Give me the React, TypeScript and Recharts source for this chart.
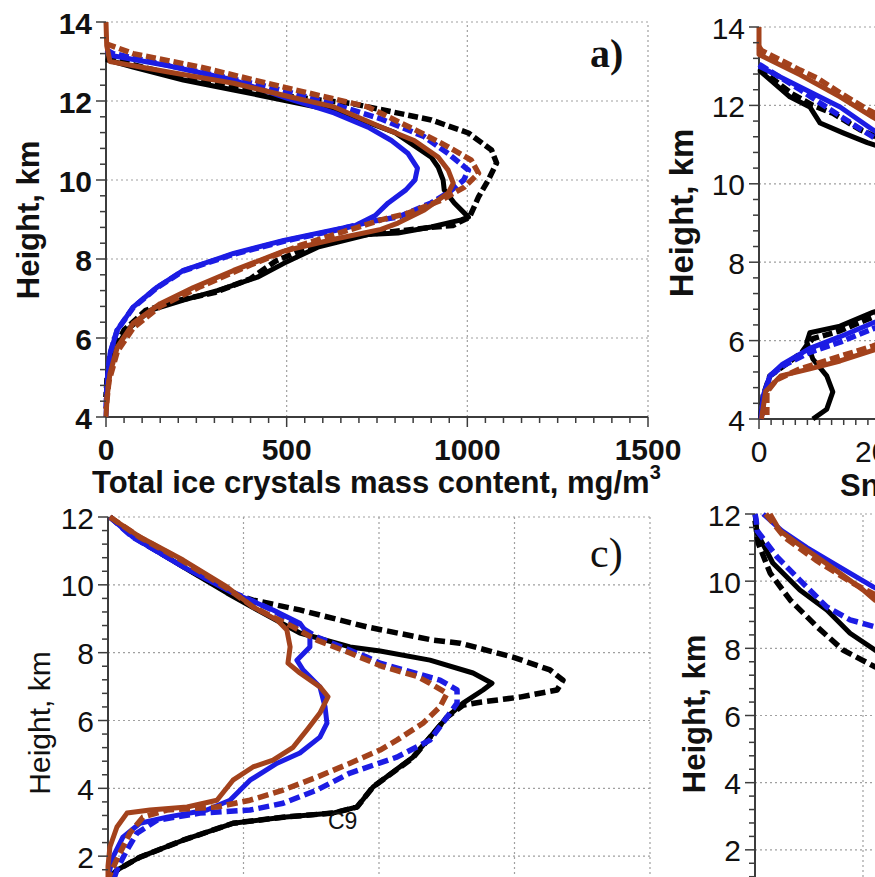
import React from 'react';
import { ScatterChart, Scatter, XAxis, YAxis, ReferenceLine } from 'recharts';

type Pt = [number, number]; // [value, height km]

// a) total ice crystals mass content, mg/m3
const aBlackSolid: Pt[] = [[0, 13.05], [75, 12.86], [214, 12.53], [353, 12.28], [492, 12.02], [650, 11.72], [800, 11.2], [900, 10.58], [919, 10.33], [933, 10.0], [936, 9.75], [964, 9.42], [1003, 9.06], [983, 8.99], [900, 8.81], [808, 8.66], [725, 8.62], [586, 8.3], [492, 7.89], [419, 7.54], [308, 7.2], [214, 6.96], [122, 6.7], [58, 6.2], [17, 5.6], [4, 5.0], [0, 4.5]];
const aBlackDashed: Pt[] = [[0, 13.1], [75, 12.92], [214, 12.6], [353, 12.35], [500, 12.12], [678, 11.94], [900, 11.52], [1003, 11.19], [1067, 10.76], [1081, 10.43], [1058, 10.0], [1031, 9.57], [1006, 9.06], [960, 8.85], [900, 8.8], [700, 8.6], [560, 8.3], [470, 7.95], [400, 7.5], [300, 7.15], [200, 6.95], [110, 6.7], [50, 6.2], [15, 5.6], [3, 5.0], [0, 4.5]];
const aBlueSolid: Pt[] = [[0, 13.25], [11, 13.16], [169, 12.9], [353, 12.53], [492, 12.1], [631, 11.7], [725, 11.34], [790, 11.0], [836, 10.67], [862, 10.3], [855, 10.0], [830, 9.75], [781, 9.42], [745, 9.1], [690, 8.85], [600, 8.68], [492, 8.47], [353, 8.14], [214, 7.71], [142, 7.29], [75, 6.78], [31, 6.2], [11, 5.6], [3, 4.85], [0, 4]];
const aBlueDashed: Pt[] = [[0, 13.3], [20, 13.2], [200, 12.85], [430, 12.4], [600, 12.0], [760, 11.55], [880, 11.1], [947, 10.67], [1003, 10.25], [990, 10.0], [950, 9.7], [900, 9.42], [808, 9.06], [733, 8.95], [631, 8.72], [492, 8.45], [353, 8.12], [214, 7.7], [142, 7.28], [75, 6.77], [31, 6.2], [11, 5.6], [3, 4.85], [0, 4.2]];
const aBrownSolid: Pt[] = [[0, 14], [2, 13.4], [11, 13.0], [169, 12.74], [353, 12.45], [511, 12.1], [631, 11.85], [761, 11.34], [853, 11.0], [919, 10.58], [947, 10.25], [961, 9.92], [947, 9.67], [881, 9.24], [808, 8.91], [761, 8.75], [631, 8.5], [492, 8.2], [353, 7.71], [242, 7.28], [150, 6.87], [75, 6.37], [31, 5.76], [11, 5.1], [3, 4.5], [0, 4]];
const aBrownDashed: Pt[] = [[0, 13.45], [75, 13.2], [261, 12.86], [492, 12.35], [725, 11.85], [860, 11.25], [947, 10.84], [1011, 10.5], [1031, 10.17], [992, 9.82], [928, 9.49], [836, 9.16], [761, 8.99], [678, 8.75], [539, 8.35], [400, 7.85], [261, 7.3], [150, 6.8], [75, 6.25], [31, 5.65], [8, 4.9], [0, 4.2]];

// b) snow, only the left part is in view
const bBlackSolid: Pt[] = [[0, 12.9], [51, 12.22], [84, 11.96], [101, 11.55], [139, 11.3], [179, 11.05], [230, 10.8], [230, 6.95], [188, 6.72], [134, 6.37], [84, 6.2], [79, 5.96], [89, 5.53], [112, 5.1], [122, 4.69], [112, 4.25], [89, 4.0]];
const bBlackDashed: Pt[] = [[0, 12.95], [54, 12.3], [89, 12.0], [122, 11.8], [167, 11.38], [230, 10.95], [230, 6.85], [188, 6.6], [134, 6.25], [89, 6.05], [80, 5.9], [71, 5.7], [45, 5.4], [18, 5.1], [7, 4.6], [3, 4]];
const bBlueSolid: Pt[] = [[0, 13.0], [68, 12.47], [134, 11.96], [188, 11.38], [230, 11.0], [230, 6.7], [188, 6.45], [134, 6.1], [84, 5.8], [39, 5.4], [18, 5.1], [7, 4.6], [3, 4]];
const bBlueDashed: Pt[] = [[0, 13.05], [68, 12.4], [107, 12.0], [152, 11.55], [188, 11.2], [230, 10.85], [230, 6.55], [188, 6.3], [134, 5.96], [84, 5.7], [39, 5.35], [18, 5.1], [9, 4.6], [4, 4]];
const bBrownSolid: Pt[] = [[0, 14], [0, 13.3], [68, 12.78], [134, 12.22], [188, 11.7], [230, 11.35], [230, 6.0], [188, 5.75], [134, 5.48], [84, 5.28], [36, 5.1], [11, 4.7], [4, 4]];
const bBrownDashed: Pt[] = [[0, 13.5], [4, 13.4], [35, 13.16], [68, 12.9], [96, 12.7], [134, 12.32], [179, 11.9], [230, 11.5], [230, 6.1], [188, 5.86], [134, 5.6], [68, 5.28], [29, 5.0], [13, 4.69], [13, 4.1]];

// c)
const cBlackSolid: Pt[] = [[7, 12], [118, 11.3], [277, 10.53], [439, 9.76], [550, 9.26], [708, 8.58], [893, 8.17], [1004, 8.05], [1188, 7.78], [1347, 7.4], [1417, 7.1], [1384, 6.9], [1310, 6.51], [1251, 6.1], [1188, 5.51], [1125, 4.92], [978, 4.04], [919, 3.45], [830, 3.27], [646, 3.15], [461, 2.97], [277, 2.47], [118, 1.97], [33, 1.59], [0, 1.2]];
const cBlackDashed: Pt[] = [[7, 12], [118, 11.3], [277, 10.55], [439, 9.8], [535, 9.55], [708, 9.26], [955, 8.76], [1199, 8.37], [1299, 8.28], [1494, 7.87], [1631, 7.49], [1679, 7.19], [1657, 6.9], [1520, 6.69], [1373, 6.54], [1310, 6.45], [1251, 6.1], [1188, 5.5], [1125, 4.9], [978, 4.04], [919, 3.45], [830, 3.27], [646, 3.15], [461, 2.97], [277, 2.47], [118, 1.97], [33, 1.59], [0, 1.3]];
const cBlueSolid: Pt[] = [[7, 12], [92, 11.41], [277, 10.53], [461, 9.76], [609, 9.26], [708, 8.87], [745, 8.46], [745, 8.17], [697, 7.78], [720, 7.49], [782, 6.99], [801, 6.4], [808, 5.92], [782, 5.51], [708, 5.04], [624, 4.74], [524, 4.24], [450, 3.65], [365, 3.36], [218, 3.15], [118, 2.97], [55, 2.56], [18, 1.97], [7, 1.6], [0, 1.3]];
const cBlueDashed: Pt[] = [[7, 12], [92, 11.4], [277, 10.55], [461, 9.78], [609, 9.25], [771, 8.46], [955, 7.87], [1004, 7.69], [1225, 7.19], [1288, 6.9], [1288, 6.51], [1251, 6.1], [1188, 5.42], [1066, 4.92], [893, 4.45], [771, 3.95], [646, 3.56], [524, 3.36], [339, 3.27], [181, 3.06], [107, 2.68], [70, 2.18], [37, 1.68], [20, 1.3]];
const cBrownSolid: Pt[] = [[7, 12], [118, 11.41], [277, 10.73], [439, 9.94], [535, 9.35], [624, 8.96], [660, 8.67], [672, 8.17], [664, 7.69], [708, 7.4], [782, 6.99], [812, 6.7], [782, 6.22], [734, 5.72], [683, 5.21], [609, 4.83], [535, 4.63], [461, 4.24], [402, 3.65], [292, 3.45], [155, 3.36], [70, 3.27], [33, 2.86], [7, 2.27], [0, 1.7], [0, 1.2]];
const cBrownDashed: Pt[] = [[7, 12], [118, 11.4], [277, 10.7], [439, 9.9], [535, 9.35], [683, 8.76], [771, 8.37], [893, 7.99], [1010, 7.6], [1140, 7.3], [1188, 7.1], [1251, 6.8], [1225, 6.4], [1162, 5.92], [1066, 5.42], [1004, 5.13], [893, 4.74], [771, 4.33], [646, 3.95], [524, 3.65], [402, 3.45], [218, 3.36], [129, 3.15], [81, 2.68], [44, 2.09], [15, 1.6], [0, 1.3]];

// d)
const dBlackSolid: Pt[] = [[0, 12], [4, 11.43], [33, 10.54], [83, 9.74], [133, 9.14], [176, 8.45], [222, 7.95], [260, 7.6]];
const dBlackDashed: Pt[] = [[0, 11.8], [6, 11.13], [28, 10.24], [65, 9.44], [115, 8.64], [163, 7.95], [222, 7.45], [260, 7.2]];
const dBlueSolid: Pt[] = [[15, 12], [50, 11.5], [96, 11.0], [157, 10.42], [219, 9.83], [260, 9.5]];
const dBlueDashed: Pt[] = [[0, 12], [2, 11.85], [4, 11.5], [41, 10.72], [83, 10.03], [133, 9.23], [176, 8.85], [222, 8.64], [260, 8.5]];
const dBrownSolid: Pt[] = [[28, 12], [46, 11.5], [78, 11.13], [115, 10.72], [157, 10.24], [200, 9.74], [222, 9.44], [260, 9.1]];
const dBrownDashed: Pt[] = [[20, 12], [55, 11.3], [115, 10.6], [180, 9.95], [222, 9.6], [260, 9.3]];

// tick labels (major ticks)
const aXMajor = [0, 500, 1000, 1500];
const aYMajor = [4, 6, 8, 10, 12, 14];
const bXMajor = [0, 200, 400, 600, 800, 1000];
const bYMajor = [4, 6, 8, 10, 12, 14];
const cXMajor = [0, 500, 1000, 1500, 2000];
const cYMajor = [0, 2, 4, 6, 8, 10, 12];
const dXMajor = [0, 200, 400, 600, 800, 1000];
const dYMajor = [0, 2, 4, 6, 8, 10, 12];

const BLACK = '#000000';
const BLUE = '#1c1ce4';
const BROWN = '#a3421c';
const AXIS = '#3c3c3c';
const GRID = '#a0a0a0';
const SANS = '"Liberation Sans", Arial, sans-serif';
const SERIF = '"Liberation Serif", "Times New Roman", serif';

const XH = 30;
const YW = 40;

const steps = (from: number, to: number, step: number) => {
  const n = Math.round((to - from) / step);
  return Array.from({ length: n + 1 }, (_, i) => +(from + i * step).toFixed(4));
};

const isMajor = (major: number[], v: number) => major.some((m) => Math.abs(m - v) < 1e-6);

const noShape = () => <g />;

interface Series {
  pts: Pt[];
  color: string;
  dashed: boolean;
}

const six = (bs: Pt[], bd: Pt[], us: Pt[], ud: Pt[], rs: Pt[], rd: Pt[]): Series[] => [
  { pts: bs, color: BLACK, dashed: false },
  { pts: bd, color: BLACK, dashed: true },
  { pts: us, color: BLUE, dashed: false },
  { pts: ud, color: BLUE, dashed: true },
  { pts: rs, color: BROWN, dashed: false },
  { pts: rd, color: BROWN, dashed: true },
];

interface PanelProps {
  box: [number, number, number, number]; // left, top, width, height on page
  plot: [number, number, number, number]; // x0, y0, x1, y1 on page
  xDomain: [number, number];
  yDomain: [number, number];
  xMajor: number[];
  yMajor: number[];
  xStep: number;
  series: Series[];
  bold: boolean;
  xLabelDy: number;
  dash: string;
}

const Panel: React.FC<PanelProps> = ({ box, plot, xDomain, yDomain, xMajor, yMajor, xStep, series, bold, xLabelDy, dash }) => {
  const [bl, bt, bw, bh] = box;
  const [x0, y0, x1, y1] = plot;
  const margin = { left: x0 - bl - YW, top: y0 - bt, right: bl + bw - x1, bottom: bt + bh - y1 - XH };
  const font = { fontFamily: SANS, fontSize: 30, fontWeight: bold ? 700 : 400, fill: '#111' };

  const XTick = (p: any) => {
    const major = isMajor(xMajor, p.payload.value);
    return (
      <g>
        <line x1={p.x} x2={p.x} y1={p.y} y2={p.y + (major ? 10 : 6)} stroke={AXIS} strokeWidth={1.5} />
        {major && (
          <text x={p.x} y={p.y + xLabelDy} textAnchor="middle" dominantBaseline="central" style={font}>
            {p.payload.value}
          </text>
        )}
      </g>
    );
  };

  const YTick = (p: any) => {
    const major = isMajor(yMajor, p.payload.value);
    return (
      <g>
        <line x1={p.x} x2={p.x - (major ? 10 : 6)} y1={p.y} y2={p.y} stroke={AXIS} strokeWidth={1.5} />
        {major && (
          <text x={p.x - 14} y={p.y + 1} textAnchor="end" dominantBaseline="central" style={font}>
            {p.payload.value}
          </text>
        )}
      </g>
    );
  };

  return (
    <div style={{ position: 'absolute', left: bl, top: bt }}>
      <ScatterChart width={bw} height={bh} margin={margin}>
        {xMajor.slice(1).map((v) => (
          <ReferenceLine key={'gx' + v} x={v} stroke={GRID} strokeWidth={1.2} strokeDasharray="2 3" />
        ))}
        {yMajor.slice(1).map((v) => (
          <ReferenceLine key={'gy' + v} y={v} stroke={GRID} strokeWidth={1.2} strokeDasharray="2 3" />
        ))}
        <XAxis
          type="number"
          dataKey="x"
          domain={xDomain}
          ticks={steps(xDomain[0], xDomain[1], xStep)}
          interval={0}
          tickSize={0}
          tickMargin={0}
          height={XH}
          axisLine={{ stroke: AXIS, strokeWidth: 2 }}
          tickLine={false}
          tick={XTick}
        />
        <YAxis
          type="number"
          dataKey="y"
          domain={yDomain}
          ticks={steps(yDomain[0], yDomain[1], 0.4)}
          interval={0}
          tickSize={0}
          tickMargin={0}
          width={YW}
          axisLine={{ stroke: AXIS, strokeWidth: 2 }}
          tickLine={false}
          tick={YTick}
        />
        {series.map((s, i) => (
          <Scatter
            key={i}
            data={s.pts.map(([x, y]) => ({ x, y }))}
            fill={s.color}
            line={{
              stroke: s.color,
              strokeWidth: s.dashed ? 5.5 : 5,
              strokeDasharray: s.dashed ? dash : undefined,
              strokeLinejoin: 'round',
            }}
            shape={noShape}
            isAnimationActive={false}
          />
        ))}
      </ScatterChart>
    </div>
  );
};

const rotated = (cx: number, cy: number, size: number, bold: boolean): React.CSSProperties => ({
  position: 'absolute',
  left: cx,
  top: cy,
  transform: 'translate(-50%, -50%) rotate(-90deg)',
  whiteSpace: 'nowrap',
  fontFamily: SANS,
  fontSize: size,
  fontWeight: bold ? 700 : 400,
  color: '#111',
  lineHeight: 1,
});

const App: React.FC = () => {
  return (
    <div style={{ position: 'fixed', left: 0, top: 0, width: 875, height: 877, overflow: 'hidden', background: '#fff' }}>
      <Panel
        box={[0, 0, 700, 480]}
        plot={[106, 22, 648, 417]}
        xDomain={[0, 1500]}
        yDomain={[4, 14]}
        xMajor={aXMajor}
        yMajor={aYMajor}
        xStep={50}
        series={six(aBlackSolid, aBlackDashed, aBlueSolid, aBlueDashed, aBrownSolid, aBrownDashed)}
        bold
        xLabelDy={32}
        dash="10 4"
      />
      <Panel
        box={[640, 0, 760, 480]}
        plot={[759, 27, 1364, 419]}
        xDomain={[0, 1000]}
        yDomain={[4, 14]}
        xMajor={bXMajor}
        yMajor={bYMajor}
        xStep={20}
        series={six(bBlackSolid, bBlackDashed, bBlueSolid, bBlueDashed, bBrownSolid, bBrownDashed)}
        bold={false}
        xLabelDy={32}
        dash="10 4"
      />
      <Panel
        box={[0, 480, 700, 480]}
        plot={[108, 517, 650, 924]}
        xDomain={[0, 2000]}
        yDomain={[0, 12]}
        xMajor={cXMajor}
        yMajor={cYMajor}
        xStep={100}
        series={six(cBlackSolid, cBlackDashed, cBlueSolid, cBlueDashed, cBrownSolid, cBrownDashed)}
        bold={false}
        xLabelDy={34}
        dash="11 5"
      />
      <Panel
        box={[640, 480, 760, 480]}
        plot={[755, 514, 1295, 917]}
        xDomain={[0, 1000]}
        yDomain={[0, 12]}
        xMajor={dXMajor}
        yMajor={dYMajor}
        xStep={20}
        series={six(dBlackSolid, dBlackDashed, dBlueSolid, dBlueDashed, dBrownSolid, dBrownDashed)}
        bold={false}
        xLabelDy={34}
        dash="11 5"
      />

      <div style={rotated(28, 220, 31, true)}>Height, km</div>
      <div style={rotated(681, 213, 33, true)}>Height, km</div>
      <div style={rotated(40, 723, 30, false)}>Height, km</div>
      <div style={rotated(694, 714, 31, true)}>Height, km</div>

      <div style={{ position: 'absolute', left: 92, top: 467, fontFamily: SANS, fontSize: 31, fontWeight: 700, color: '#111', whiteSpace: 'nowrap', lineHeight: 1 }}>
        Total ice crystals mass content, mg/m<span style={{ fontSize: 20, position: 'relative', top: -14 }}>3</span>
      </div>
      <div style={{ position: 'absolute', left: 840, top: 470, fontFamily: SANS, fontSize: 31, fontWeight: 700, color: '#111', whiteSpace: 'nowrap', lineHeight: 1 }}>
        Snow mass content, mg/m<span style={{ fontSize: 20, position: 'relative', top: -14 }}>3</span>
      </div>

      <div style={{ position: 'absolute', left: 590, top: 34, fontFamily: SERIF, fontSize: 40, fontWeight: 700, color: '#111', lineHeight: 1 }}>a)</div>
      <div style={{ position: 'absolute', left: 590, top: 532, fontFamily: SERIF, fontSize: 42, color: '#111', lineHeight: 1 }}>c)</div>
      <div style={{ position: 'absolute', left: 328, top: 810, fontFamily: SANS, fontSize: 23, color: '#111', lineHeight: 1 }}>C9</div>
    </div>
  );
};

export default App;
